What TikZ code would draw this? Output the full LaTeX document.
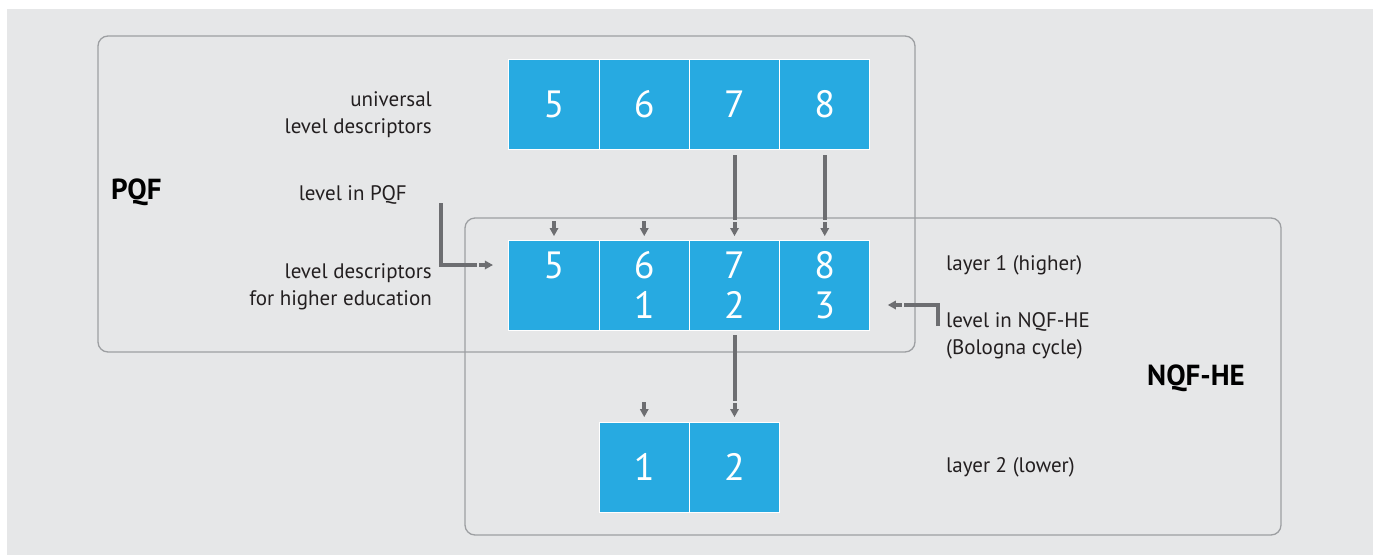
\documentclass[tikz,border=0pt]{standalone}
\usepackage{fontspec}
\setmainfont{PT Sans}
\usetikzlibrary{positioning, arrows.meta}

\definecolor{bgcol}{HTML}{E6E7E8}
\definecolor{lvlblue}{HTML}{27AAE1}
\definecolor{framegray}{HTML}{9D9FA2}
\definecolor{arrgray}{HTML}{6D6E71}
\definecolor{txtgray}{HTML}{231F20}

\tikzset{
  cell/.style={fill=lvlblue, draw=white, line width=0.8pt, outer sep=0pt, inner sep=0pt,
    minimum width=90.25pt, minimum height=90pt, text=white, align=center,
    font=\fontsize{38}{40}\selectfont},
  lbl/.style={text=txtgray, inner sep=0pt, font=\fontsize{21}{27}\selectfont},
  biglbl/.style={text=black, inner sep=0pt, font=\fontsize{29}{30}\selectfont\bfseries},
  framebox/.style={draw=framegray, line width=1.3pt, rounded corners=10pt},
  arr/.style={draw=arrgray, line width=4pt,
    -{Rectangle[length=2pt,width=4pt,line width=0pt,color=bgcol,sep=0pt]Rectangle[length=6pt,width=4pt,line width=0pt,sep=0pt]Triangle[length=8pt,width=9pt,line width=0pt]}},
  stub/.style={draw=arrgray, line width=4pt,
    -{Rectangle[length=6pt,width=4pt,line width=0pt,sep=0pt]Triangle[length=8pt,width=9pt,line width=0pt]}}
}

\begin{document}
\begin{tikzpicture}[x=1pt, y=-1pt]
    \useasboundingbox (0,0) rectangle (1373,555);
    \fill[white] (0,0) rectangle (1373,555);
    \fill[bgcol] (7,9) rectangle (1373,555);

    % Frameworks
    \draw[framebox] (98,36) rectangle (915,352);
    \draw[framebox] (465,218) rectangle (1281,535);
    \node[biglbl, anchor=west] (pqf) at (111,192) {PQF};
    \node[biglbl, anchor=west] (nqf) at (1147,378) {NQF-HE};

    % Universal levels
    \node[cell] (t5) at (554,104) {5};
    \node[cell, right=0pt of t5] (t6) {6};
    \node[cell, right=0pt of t6] (t7) {7};
    \node[cell, right=0pt of t7] (t8) {8};

    % Higher education levels
    \node[cell, below=91pt of t5] (m5) {5\\\phantom{1}};
    \node[cell, right=0pt of m5] (m6) {6\\1};
    \node[cell, right=0pt of m6] (m7) {7\\2};
    \node[cell, right=0pt of m7] (m8) {8\\3};

    % Lower layer
    \node[cell, below=92pt of m6] (b1) {1};
    \node[cell, right=0pt of b1] (b2) {2};

    % Labels
    \node[lbl, anchor=east, align=right] (univ) at (432,115) {universal\\level descriptors};
    \node[lbl, anchor=east] (lvlpqf) at (407,195) {level in PQF};
    \node[lbl, anchor=east, align=right] (hedesc) at (432,287) {level descriptors\\for higher education};
    \node[lbl, anchor=west] (layer1) at (946,265) {layer 1 (higher)};
    \node[lbl, anchor=west, align=left] (lvlnqf) at (946,336) {level in NQF-HE\\(Bologna cycle)};
    \node[lbl, anchor=west] (layer2) at (946,467) {layer 2 (lower)};

    % Arrows
    \coordinate (pqfpt) at (441,203);
    \coordinate (nqfpt) at (938,326);
    \draw[arr] ([yshift=-6pt]t7.south) -- ([yshift=4pt]m7.north);
    \draw[arr] ([yshift=-6pt]t8.south) -- ([yshift=4pt]m8.north);
    \draw[stub] ([yshift=19pt]m5.north) -- ([yshift=4pt]m5.north);
    \draw[stub] ([yshift=19pt]m6.north) -- ([yshift=4pt]m6.north);
    \draw[arr] ([yshift=-5pt]m7.south) -- ([yshift=5pt]b2.north);
    \draw[stub] ([yshift=20pt]b1.north) -- ([yshift=5pt]b1.north);
    \draw[arr] (pqfpt) |- ([xshift=-16pt,yshift=20pt]m5.west);
    \draw[arr] (nqfpt) |- ([xshift=18pt,yshift=-20pt]m8.east);
\end{tikzpicture}
\end{document}
